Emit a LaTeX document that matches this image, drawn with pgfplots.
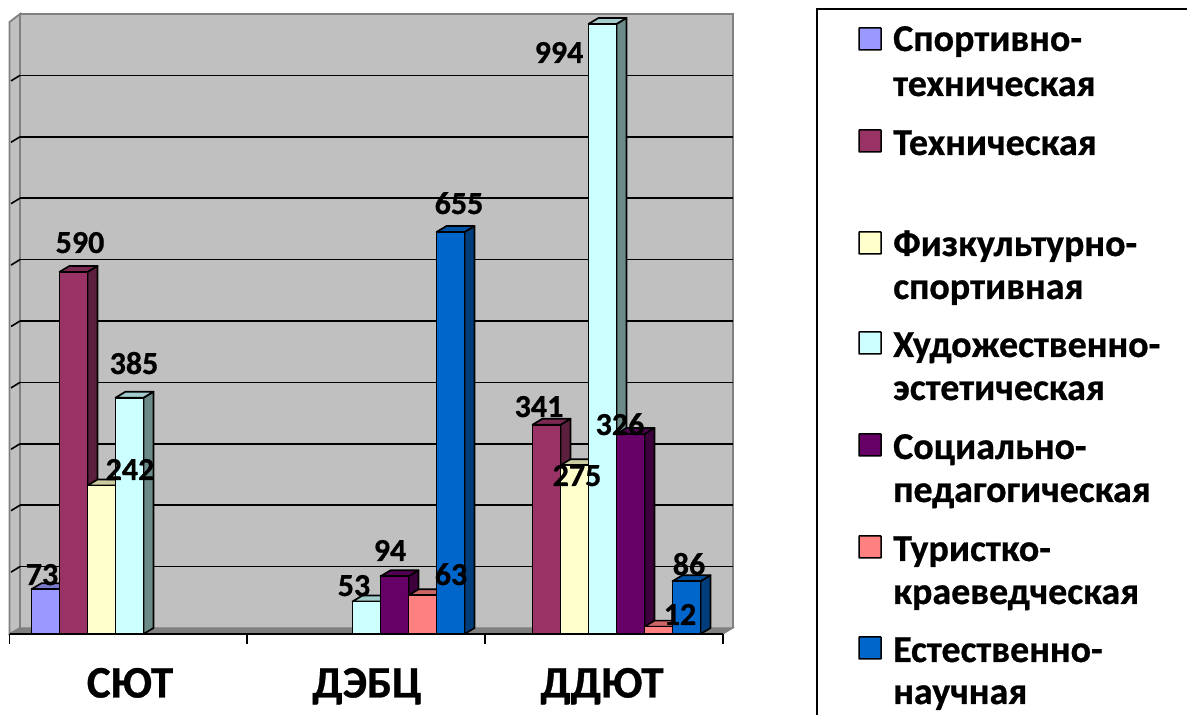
\documentclass[border=0pt]{standalone}
\usepackage{fontspec}
\setmainfont{Carlito}[BoldFeatures={FakeBold=0.7}]
\usepackage{pgfplots}
\pgfplotsset{compat=1.18}

\definecolor{wallgray}{HTML}{C0C0C0}
\definecolor{floorgray}{HTML}{808080}
% front, top, side of each series
\definecolor{blue1}{HTML}{9999FF}\definecolor{blue1t}{HTML}{7A7ACC}\definecolor{blue1s}{HTML}{5C5C99}
\definecolor{rose}{HTML}{993366}\definecolor{roset}{HTML}{7A2952}\definecolor{roses}{HTML}{5C1F3D}
\definecolor{cream}{HTML}{FFFFCC}\definecolor{creamt}{HTML}{CCCCA3}\definecolor{creams}{HTML}{99997A}
\definecolor{aqua}{HTML}{CCFFFF}\definecolor{aquat}{HTML}{A3CCCC}\definecolor{aquas}{HTML}{6B8A88}
\definecolor{plum}{HTML}{660066}\definecolor{plumt}{HTML}{520052}\definecolor{plums}{HTML}{3D003D}
\definecolor{salmon}{HTML}{FF8080}\definecolor{salmont}{HTML}{CC6666}\definecolor{salmons}{HTML}{994D4D}
\definecolor{sea}{HTML}{0066CC}\definecolor{seat}{HTML}{0052A3}\definecolor{seas}{HTML}{003D7A}

% one 3d column: left edge, value, front, top, side
\newcommand{\column}[5]{%
  \pgfmathsetmacro\xm{#1+14}%
  \pgfmathsetmacro\xr{#1+28}%
  \pgfmathsetmacro\xs{#1+38}%
  \pgfmathsetmacro\xb{#1+10}%
  \pgfmathsetmacro\yb{#2+9.78}%
  \addplot[fill={#5},draw=black,line width=1.7pt,line join=round] coordinates {(\xr,0) (\xs,9.78) (\xs,\yb) (\xr,#2)} --cycle;
  \addplot[fill={#4},draw=black,line width=1.7pt,line join=round] coordinates {(#1,#2) (\xb,\yb) (\xs,\yb) (\xr,#2)} --cycle;
  \addplot[ybar,bar width=28pt,bar shift=0pt,fill={#3},draw=black,line width=1.7pt] coordinates {(\xm,#2)};
}

\begin{document}
\begin{tikzpicture}
\useasboundingbox (0,0) rectangle (1187pt,715pt);

% walls and floor, pixel coordinates
\begin{scope}[x=1pt,y=-1pt,yshift=715pt]
  \fill[wallgray] (20,14) rectangle (733,628);
  \draw[floorgray,line width=1.8pt,fill=wallgray] (9.5,22) -- (20,14) -- (20,628) -- (9.5,634) -- cycle;
  \draw[floorgray,line width=1.8pt] (20,14) -- (733,14) -- (733,628);
  \foreach \gy in {75.4,136.8,198.2,259.6,321,382.4,443.8,505.2,566.6} {
    \draw[black,line width=1.6pt] (20,\gy) -- (733,\gy);
    \draw[black,line width=1.6pt] (11,\gy+5.5) -- (20,\gy);
  }
  \draw[floorgray,fill=floorgray,line width=1pt] (9.5,634) -- (20,628) -- (733,628) -- (723,634) -- cycle;
\end{scope}

\begin{axis}[
  scale only axis,
  width=1187pt, height=715pt,
  xmin=0, xmax=1187,
  ymin=-131.99, ymax=1033.07,
  hide axis, clip=false
]
% СЮТ
\column{31.5}{73}{blue1}{blue1t}{blue1s}
\column{59.5}{590}{rose}{roset}{roses}
\column{87.5}{242}{cream}{creamt}{creams}
\column{115.5}{385}{aqua}{aquat}{aquas}
% ДЭБЦ
\column{352.5}{53}{aqua}{aquat}{aquas}
\column{380.5}{94}{plum}{plumt}{plums}
\column{408.5}{63}{salmon}{salmont}{salmons}
\column{436.5}{655}{sea}{seat}{seas}
% ДДЮТ
\column{532.5}{341}{rose}{roset}{roses}
\column{560.5}{275}{cream}{creamt}{creams}
\column{588.5}{994}{aqua}{aquat}{aquas}
\column{616.5}{326}{plum}{plumt}{plums}
\column{644.5}{12}{salmon}{salmont}{salmons}
\column{672.5}{86}{sea}{seat}{seas}
% base line and ticks
\addplot[black,line width=1.7pt] coordinates {(9.5,0) (723,0)};
\addplot[black,line width=1.7pt] coordinates {(9.5,0) (9.5,-16)};
\addplot[black,line width=1.7pt] coordinates {(247,0) (247,-16)};
\addplot[black,line width=1.7pt] coordinates {(485,0) (485,-16)};
\addplot[black,line width=1.7pt] coordinates {(723,0) (723,-16)};
\end{axis}

% labels and legend, pixel coordinates
\begin{scope}[x=1pt,y=-1pt,yshift=715pt,font=\bfseries]
  \foreach \px/\py/\txt in {42/585/73,80/253/590,130/480/242,134/374/385,
      354/596/53,390/561/94,451/585/63,459/214/655,
      539/417/341,577/486/275,559/63/994,620/435/326,680/625/12,689/575/86}
    \node[anchor=base,font=\fontsize{32}{32}\bfseries,inner sep=0pt] at (\px,\py) {\txt};

  \foreach \px/\txt in {130/СЮТ,367/ДЭБЦ,602/ДДЮТ}
    \node[anchor=base,font=\fontsize{45}{45}\bfseries,inner sep=0pt] at (\px,697.5) {\txt};

  \draw[black,line width=1.7pt] (817,715) -- (817,9) -- (1187,9);

  \foreach \ly/\col in {39/blue1,141/rose,243/cream,343/aqua,445/plum,547/salmon,648/sea}
    \draw[black,line width=1.5pt,fill=\col,rounded corners=0.5pt] (859,\ly-11) rectangle (881,\ly+11);

  \foreach \ly/\txt in {51/Спортивно-,96/техническая,155/Техническая,256/Физкультурно-,299/спортивная,
      357/Художественно-,400/эстетическая,459/Социально-,502/педагогическая,
      561/Туристко-,604/краеведческая,662/Естественно-,704/научная}
    \node[anchor=base west,font=\fontsize{38}{38}\bfseries,inner sep=0pt] at (893,\ly) {\txt};
\end{scope}
\end{tikzpicture}
\end{document}
